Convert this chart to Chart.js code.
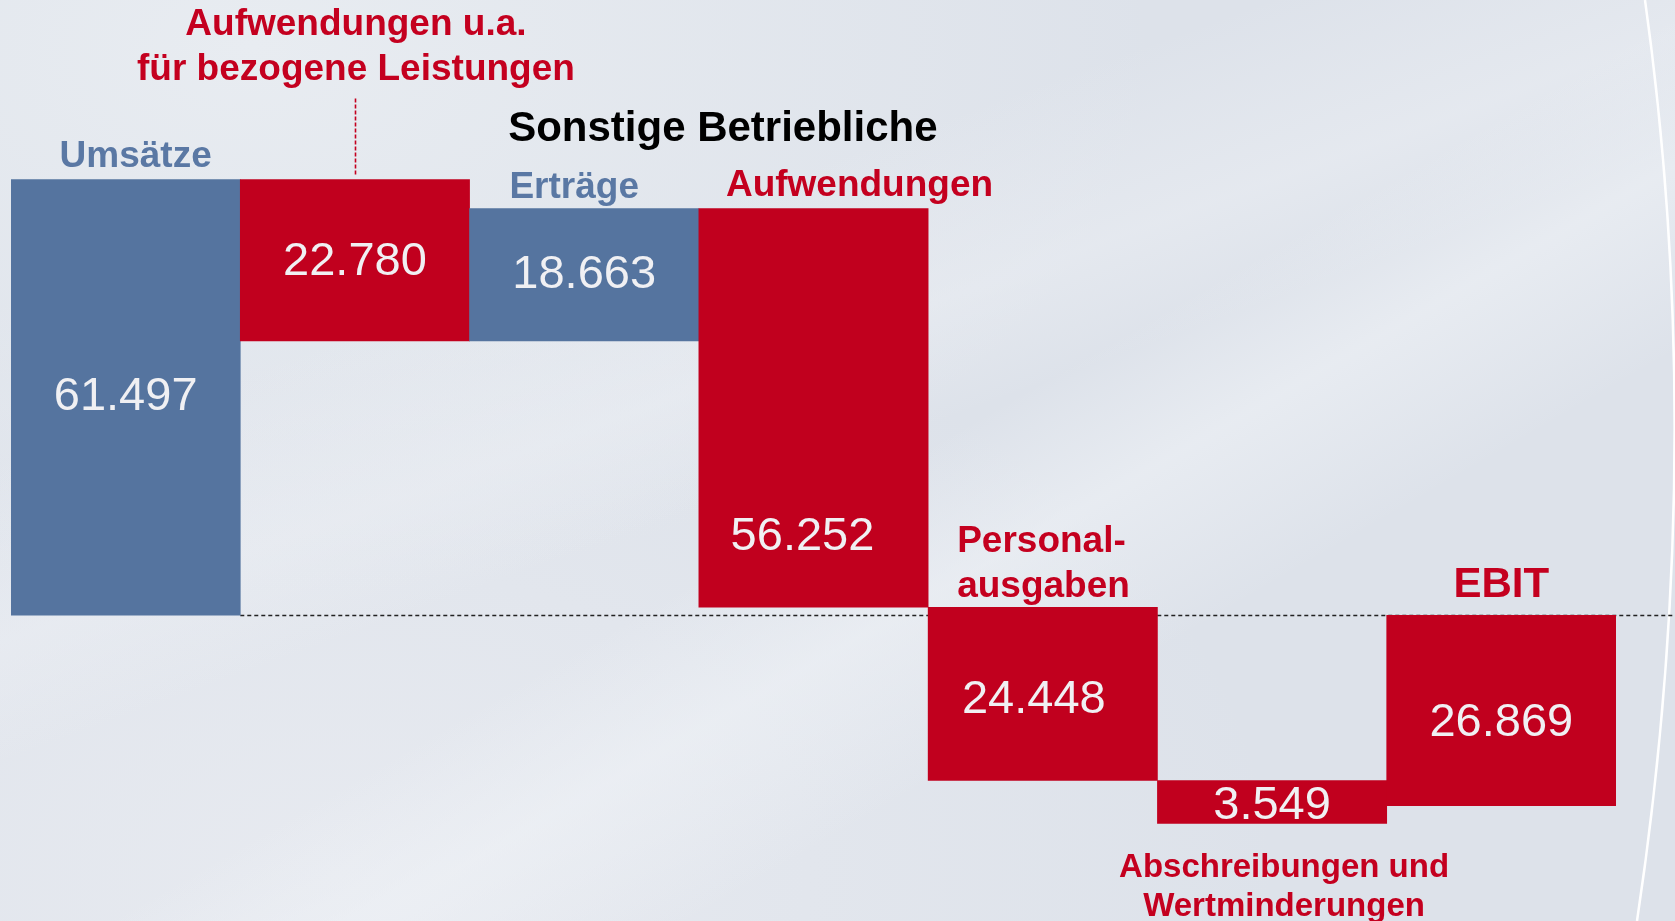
<!DOCTYPE html>
<html lang="de">
<head>
<meta charset="utf-8">
<title>Von den Umsätzen zum EBIT</title>
<script src="https://cdn.jsdelivr.net/npm/chart.js@4.4.1/dist/chart.umd.min.js"></script>
<style>
    html, body { margin: 0; padding: 0; }
    body {
        width: 1675px;
        height: 921px;
        overflow: hidden;
        background:
            linear-gradient(150deg, rgba(255,255,255,0) 52%, rgba(240,243,247,0.55) 60%, rgba(255,255,255,0) 70%),
            linear-gradient(160deg, rgba(255,255,255,0) 30%, rgba(236,239,244,0.5) 42%, rgba(255,255,255,0) 50%),
            radial-gradient(ellipse at 15% 5%, #e8ecf1 0%, rgba(232,236,241,0) 45%),
            radial-gradient(ellipse at 20% 95%, #e7eaf0 0%, rgba(231,234,240,0) 50%),
            #dde2ea;
        font-family: "Liberation Sans", Arial, sans-serif;
    }
    #wrap { position: relative; width: 1675px; height: 921px; }
</style>
</head>
<body>
<div id="wrap"><canvas id="chart" width="1675" height="921"></canvas></div>
<script>
// Werte aus der Grafik (in T€), Vorzeichen = Richtung im Wasserfall
const categories = [
    'Umsätze',
    'Aufwendungen u.a. für bezogene Leistungen',
    'Sonstige betriebliche Erträge',
    'Sonstige betriebliche Aufwendungen',
    'Personalausgaben',
    'Abschreibungen und Wertminderungen',
    'EBIT'
];
const values = [61497, -22780, 18663, -56252, -24448, -3549, -26869];
const isTotal = [false, false, false, false, false, false, true];

// Beschriftungen wie im Original (Zeilenumbrüche)
const captions = [
    ['Umsätze'],
    ['Aufwendungen u.a.', 'für bezogene Leistungen'],
    ['Erträge'],
    ['Aufwendungen'],
    ['Personal-', 'ausgaben'],
    ['Abschreibungen und', 'Wertminderungen'],
    ['EBIT']
];
const groupCaption = 'Sonstige Betriebliche';

const BLUE = '#55749f';
const RED = '#c1001e';
const BLUE_TEXT = '#5a78a4';
const RED_TEXT = '#c4001f';
const FONT = '"Liberation Sans", Arial, sans-serif';

// Schwebende Balken aus den Werten aufbauen
function buildBars(vals, totals) {
    let run = 0;
    return vals.map((v, i) => {
        if (totals[i]) return [0, v];
        const bar = [run, run + v];
        run += v;
        return bar;
    });
}

function formatDe(v) {
    return String(Math.abs(v)).replace(/\B(?=(\d{3})+(?!\d))/g, '.');
}

const bars = buildBars(values, isTotal);
const colors = values.map((v, i) => (isTotal[i] || v < 0) ? RED : BLUE);

// Weiße Bogenlinie am rechten Rand
const edgeCurve = {
    id: 'edgeCurve',
    beforeDraw(chart) {
        const ctx = chart.ctx;
        ctx.save();
        ctx.strokeStyle = '#ffffff';
        ctx.lineWidth = 2.5;
        ctx.beginPath();
        ctx.moveTo(1645, 0);
        ctx.quadraticCurveTo(1708, 450, 1637, 921);
        ctx.stroke();
        ctx.restore();
    }
};

// gestrichelte Nulllinie und Verbindungslinie zur Beschriftung
const guideLines = {
    id: 'guideLines',
    beforeDatasetsDraw(chart) {
        const ctx = chart.ctx;
        const y = chart.scales.y;
        const meta = chart.getDatasetMeta(0);
        const zero = Math.round(y.getPixelForValue(0)) + 0.5;
        const first = meta.data[0];

        ctx.save();
        ctx.strokeStyle = '#222222';
        ctx.lineWidth = 1.3;
        ctx.setLineDash([4, 3]);
        ctx.beginPath();
        ctx.moveTo(first.x + first.width / 2, zero);
        ctx.lineTo(chart.width, zero);
        ctx.stroke();

        // dünne rote Linie über dem zweiten Balken
        const b = meta.data[1];
        const top = Math.min(b.y, b.base);
        ctx.strokeStyle = RED_TEXT;
        ctx.lineWidth = 1.6;
        ctx.setLineDash([4, 2]);
        ctx.beginPath();
        ctx.moveTo(Math.round(b.x) + 0.5, top - 81);
        ctx.lineTo(Math.round(b.x) + 0.5, top - 3);
        ctx.stroke();
        ctx.restore();
    }
};

// Werte in den Balken und Kategorie-Texte
const barLabels = {
    id: 'barLabels',
    afterDatasetsDraw(chart) {
        const ctx = chart.ctx;
        const meta = chart.getDatasetMeta(0);
        ctx.save();
        ctx.textAlign = 'center';
        ctx.textBaseline = 'middle';

        // Zahlen
        ctx.fillStyle = '#f0f0f3';
        ctx.font = '47px ' + FONT;
        meta.data.forEach((bar, i) => {
            const top = Math.min(bar.y, bar.base);
            const bottom = Math.max(bar.y, bar.base);
            let cy = (top + bottom) / 2;
            let cx = bar.x;
            if (i === 1) { cy += 2; }
            if (i === 3) { cy = bottom - 70; cx = bar.x - 11; }
            if (i === 4) { cy += 6; cx = bar.x - 9; }
            if (i === 5) { cy += 4; }
            if (i === 6) { cy += 13; }
            ctx.fillText(formatDe(values[i]), cx, cy);
        });

        // Kategorien
        const put = (lines, x, y, step, color, size, align) => {
            ctx.fillStyle = color;
            ctx.font = 'bold ' + size + 'px ' + FONT;
            ctx.textAlign = align || 'center';
            lines.forEach((t, k) => ctx.fillText(t, x, y + k * step));
        };
        const d = meta.data;
        const topOf = b => Math.min(b.y, b.base);
        const botOf = b => Math.max(b.y, b.base);

        put(captions[0], d[0].x + 10, topOf(d[0]) - 23, 0, BLUE_TEXT, 37);
        put(captions[1], d[1].x + 1, topOf(d[1]) - 155, 45, RED_TEXT, 37);
        put(captions[2], d[2].x - 10, topOf(d[2]) - 21, 0, BLUE_TEXT, 37);
        put(captions[3], d[3].x + 46, topOf(d[3]) - 23, 0, RED_TEXT, 37);
        put(captions[4], d[4].x - d[4].width / 2 + 29, topOf(d[4]) - 65, 45, RED_TEXT, 37, 'left');
        put(captions[5], d[5].x + 12, botOf(d[5]) + 44, 39, RED_TEXT, 33);
        put(captions[6], d[6].x, topOf(d[6]) - 30, 0, RED_TEXT, 42);

        // gemeinsame Überschrift über Erträge / Aufwendungen
        const gx = (d[2].x + d[3].x) / 2 + 24;
        put([groupCaption], gx, topOf(d[2]) - 79, 0, '#000000', 42);

        ctx.restore();
    }
};

const ctx = document.getElementById('chart').getContext('2d');
new Chart(ctx, {
    type: 'bar',
    data: {
        labels: categories,
        datasets: [{
            data: bars,
            backgroundColor: colors,
            borderWidth: 0,
            borderSkipped: false,
            categoryPercentage: 1,
            barPercentage: 1,
            minBarLength: 43
        }]
    },
    options: {
        responsive: false,
        animation: false,
        layout: { padding: { left: 11, right: 59, top: 0, bottom: 0 } },
        plugins: {
            legend: { display: false },
            tooltip: { enabled: false }
        },
        scales: {
            x: { display: false },
            y: { display: false, min: -43140, max: 86820 }
        }
    },
    plugins: [edgeCurve, guideLines, barLabels]
});
</script>
</body>
</html>
